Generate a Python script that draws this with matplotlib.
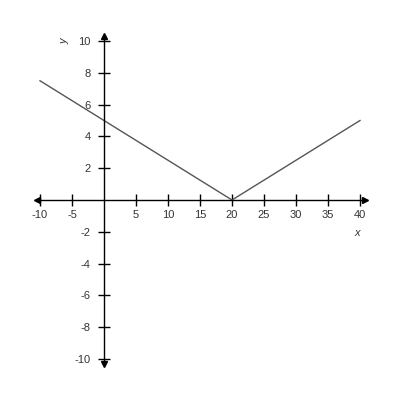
import matplotlib
matplotlib.use("Agg")
import matplotlib.pyplot as plt
import numpy as np

# data: piecewise linear, vertices
line_x = [-10, 20, 40]
line_y = [7.5, 0, 5]
x_ticks = [-10, -5, 5, 10, 15, 20, 25, 30, 35, 40]
y_ticks = [-10, -8, -6, -4, -2, 2, 4, 6, 8, 10]

plt.rcParams['font.family'] = ['Liberation Sans', 'DejaVu Sans']

fig = plt.figure(figsize=(4, 4), dpi=100)
ax = fig.add_axes([0.068, 0.06275, 0.864, 0.8745])
ax.set_xlim(-12, 42)
ax.set_ylim(-11, 11)

for s in ['top', 'right']:
    ax.spines[s].set_visible(False)
ax.spines['left'].set_position(('data', 0))
ax.spines['bottom'].set_position(('data', 0))
ax.spines['bottom'].set_bounds(-10.4, 40.8)
ax.spines['left'].set_bounds(-10.3, 10.3)
for s in ['left', 'bottom']:
    ax.spines[s].set_linewidth(1.0)
    ax.spines[s].set_color('black')

ax.set_xticks(x_ticks)
ax.set_xticklabels([str(v) for v in x_ticks])
ax.set_yticks(y_ticks)
ax.set_yticklabels([str(v) for v in y_ticks])
ax.tick_params(axis='x', direction='inout', length=9, width=1, pad=2.5, labelsize=8, colors='black', labelcolor='#333333')
ax.tick_params(axis='y', direction='inout', length=9, width=1, pad=5, labelsize=8, colors='black', labelcolor='#333333')

# arrowheads
ax.plot([40.8], [0], marker='>', color='black', markersize=4.5, clip_on=False)
ax.plot([-10.4], [0], marker='<', color='black', markersize=4.5, clip_on=False)
ax.plot([0], [10.3], marker='^', color='black', markersize=4.5, clip_on=False)
ax.plot([0], [-10.3], marker='v', color='black', markersize=4.5, clip_on=False)

ax.plot(line_x, line_y, color='#555555', lw=1.0)

ax.text(39.5, -2.1, 'x', fontsize=8, style='italic', color='#333333', ha='center', va='center')
ax.text(-6.2, 10.0, 'y', fontsize=8, style='italic', color='#333333', ha='center', va='center', rotation=90)

fig.savefig('out.png', dpi=100)
